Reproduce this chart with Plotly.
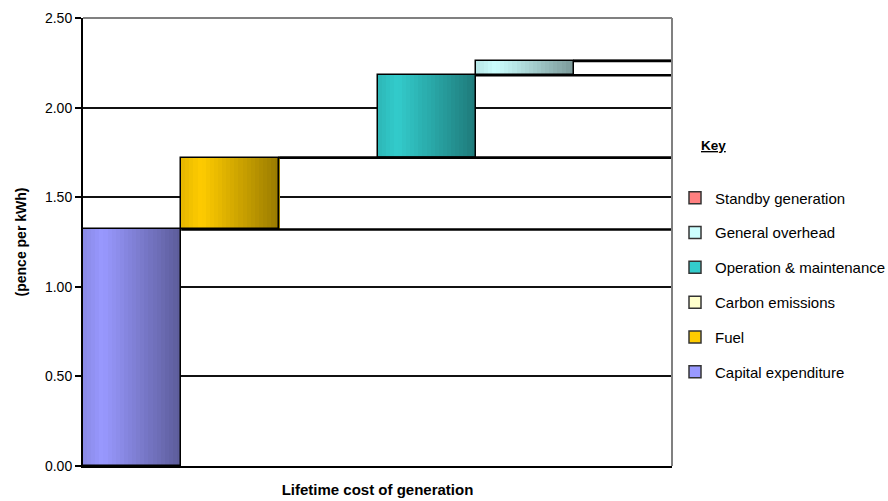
import plotly.graph_objects as go

# Cost components of the lifetime cost of generation (pence per kWh)
categories = ["Capital expenditure", "Fuel", "Carbon emissions",
              "Operation & maintenance", "General overhead", "Standby generation"]
values = [1.32, 0.40, 0.00, 0.46, 0.08, 0.00]
colors = ["#9999ff", "#ffcc00", "#ffffcc", "#33cccc", "#ccffff", "#ff8080"]
y_ticks = [0.0, 0.5, 1.0, 1.5, 2.0, 2.5]

# Waterfall bases: each component starts where the previous one ended
bases = []
running = 0.0
for v in values:
    bases.append(running)
    running += v
tops = [b + v for b, v in zip(bases, values)]
xpos = list(range(len(categories)))


def shade(hex_color, f):
    h = hex_color.lstrip("#")
    r, g, b = (int(h[i:i + 2], 16) for i in (0, 2, 4))
    return "rgb({},{},{})".format(int(r * f), int(g * f), int(b * f))


def brightness(t):
    # light band just left of centre, darkening towards the right edge
    if t < 0.2:
        return 0.9 + 0.1 * (t / 0.2)
    return 1.0 - 0.4 * ((t - 0.2) / 0.8)


fig = go.Figure()

# Horizontal gradient for each bar, built from narrow slices
N = 24
for k in range(N):
    t = (k + 0.5) / N
    fig.add_trace(go.Bar(
        x=xpos, y=values, base=bases,
        width=[1.0 / N * 1.08] * len(xpos),
        offset=[-0.5 + k / N] * len(xpos),
        marker=dict(color=[shade(c, brightness(t)) for c in colors], line=dict(width=0)),
        showlegend=False, hoverinfo="skip",
    ))

# Bar outlines
fig.add_trace(go.Bar(
    x=xpos, y=values, base=bases, width=[1.0] * len(xpos),
    marker=dict(color="rgba(0,0,0,0)", line=dict(color="#000000", width=1.5)),
    showlegend=False, hoverinfo="skip",
))

# Step lines carrying each running total to the right edge
cx, cy = [], []
for i, top in enumerate(tops):
    cx += [i + 0.5, len(categories) - 0.5, None]
    cy += [top, top, None]
fig.add_trace(go.Scatter(x=cx, y=cy, mode="lines",
                         line=dict(color="#000000", width=2.5),
                         showlegend=False, hoverinfo="skip"))

# Key entries, listed top-down from the last component to the first
for name, c in reversed(list(zip(categories, colors))):
    fig.add_trace(go.Bar(
        x=[None], y=[None], name=name, legendgroup=name,
        marker=dict(color=c, line=dict(color="#333333", width=1.5)),
    ))

fig.update_layout(
    width=888, height=501,
    margin=dict(l=83, r=216, t=18, b=35, autoexpand=False),
    paper_bgcolor="white", plot_bgcolor="white",
    barmode="overlay", bargap=0,
    font=dict(family="Liberation Sans, Arial, sans-serif", size=14, color="#000000"),
    xaxis=dict(range=[-0.5, 5.5], showticklabels=False, ticks="", showgrid=False,
               zeroline=False, showline=True, linecolor="#000000", linewidth=2,
               automargin=False,
               title=dict(text="<b>Lifetime cost of generation</b>", font=dict(size=15),
                          standoff=17)),
    yaxis=dict(range=[0, 2.5], tickvals=y_ticks, tickformat=".2f",
               ticks="outside", ticklen=6, tickcolor="#000000", tickwidth=1.5,
               showgrid=True, gridcolor="#111111", gridwidth=1.6, zeroline=False,
               showline=True, linecolor="#000000", linewidth=2, automargin=False,
               title=dict(text="<b>(pence per kWh)</b>", font=dict(size=14), standoff=15)),
    legend=dict(x=1.0051, y=0.635, xanchor="left", yanchor="top",
                traceorder="grouped", tracegroupgap=12.3,
                font=dict(size=15), bgcolor="rgba(0,0,0,0)"),
    annotations=[dict(text="<b><u>Key</u></b>", x=1.046, y=0.7165, xref="paper", yref="paper",
                      xanchor="left", yanchor="middle", showarrow=False, font=dict(size=13.5))],
    shapes=[
        dict(type="line", xref="paper", yref="paper", x0=0, x1=1, y0=1, y1=1,
             line=dict(color="#808080", width=2)),
        dict(type="line", xref="paper", yref="paper", x0=1, x1=1, y0=0, y1=1,
             line=dict(color="#808080", width=2)),
    ],
)

fig.write_html("out.html")
